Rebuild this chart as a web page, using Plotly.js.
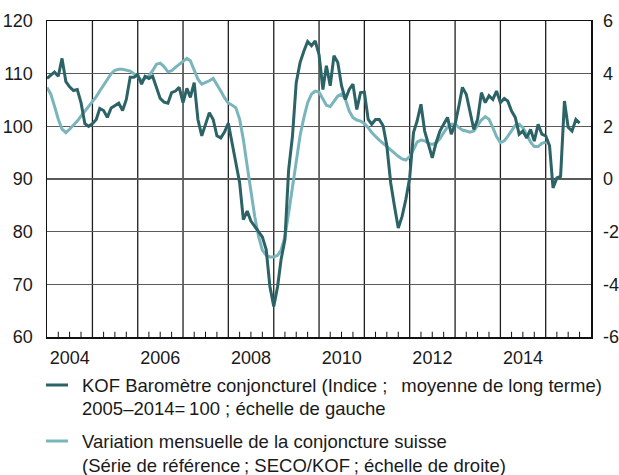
<!DOCTYPE html>
<html>
<head>
<meta charset="utf-8">
<script src="https://cdn.plot.ly/plotly-3.0.1.min.js"></script>
<style>
html,body{margin:0;padding:0;background:#fff;}
#chart{width:619px;height:475px;}
</style>
</head>
<body>
<div id="chart"></div>
<script>
// Monthly series, starting January 2004
const startYear = 2004;
const kofValues = [
  109.1,109.8,110.3,109.5,112.9,108.5,107.5,106.8,107.0,104.5,100.5,100.0,
  100.5,101.3,103.4,103.0,101.7,103.5,104.0,104.4,103.0,105.1,109.3,109.3,
  109.8,108.0,109.5,109.1,109.5,107.4,105.3,104.6,104.4,106.4,106.7,107.4,
  104.5,107.2,105.5,108.3,101.3,98.2,100.4,102.6,101.3,98.2,97.8,98.9,
  100.6,96.9,93.1,89.3,82.3,83.9,82.0,81.0,79.8,79.0,76.6,69.6,
  65.8,69.6,74.7,78.5,91.8,98.2,108.3,112.1,114.3,116.1,115.3,116.2,
  113.6,107.0,111.5,107.7,113.4,112.1,107.7,105.1,107.0,108.0,103.2,106.4,
  106.5,101.3,100.4,101.3,101.3,100.1,96.3,89.3,84.8,80.7,82.9,86.1,
  90.2,98.8,101.0,104.2,99.1,96.6,94.0,96.9,99.1,100.4,101.7,98.5,
  100.4,103.9,107.4,106.1,102.6,99.4,101.3,106.4,104.5,105.8,105.1,106.7,
  104.5,105.3,104.8,102.9,101.7,98.5,99.1,97.8,99.4,97.2,100.4,98.5,
  98.2,96.3,88.3,90.2,90.5,104.8,99.8,99.1,101.3,100.6
];
const refValues = [
  3.47,3.22,2.77,2.27,1.89,1.76,1.89,2.04,2.20,2.39,2.58,2.75,
  2.93,3.13,3.34,3.56,3.79,4.00,4.13,4.17,4.17,4.14,4.10,4.00,
  3.89,3.73,3.82,3.92,4.11,4.36,4.40,4.27,4.07,4.11,4.24,4.36,
  4.49,4.58,4.49,4.11,3.79,3.60,3.66,3.73,3.82,3.60,3.34,3.09,
  2.88,2.80,2.71,2.27,1.50,0.49,-0.54,-1.43,-2.19,-2.70,-2.90,-2.96,
  -2.96,-2.90,-2.70,-2.19,-1.29,-0.27,0.75,1.64,2.34,2.90,3.22,3.34,
  3.30,3.03,2.80,2.75,2.93,3.15,3.22,3.03,2.58,2.33,2.24,2.20,
  2.11,1.95,1.76,1.60,1.48,1.35,1.24,1.12,0.98,0.86,0.76,0.72,
  0.85,1.12,1.40,1.48,1.45,1.35,1.31,1.37,1.53,1.76,1.97,2.08,
  2.08,1.95,1.86,1.82,1.78,1.82,2.01,2.24,2.37,2.27,1.95,1.61,
  1.38,1.45,1.62,1.86,2.04,2.08,1.95,1.70,1.40,1.23,1.23,1.35,
  1.40
];
const yearLabels = ['2004','2006','2008','2010','2012','2014'];
const gridYears = [2005,2006,2007,2008,2009,2010,2011,2012,2013,2014,2015];
const quarterMonths = ['04','07','10'];
const leftTicks = [60,70,80,90,100,110,120];
const rightTicks = [-6,-4,-2,0,2,4,6];
const rightTickText = ['-6','-4','-2','0','2','4','6'];
const legendKof = ['KOF Baromètre conjoncturel (Indice\u00a0;\u00a0\u00a0\u2009moyenne de long terme)', '2005\u20132014=\u2009100\u00a0; échelle de gauche'];
const legendRef = ['Variation mensuelle de la conjoncture suisse', '(Série de référence\u2009; SECO/KOF\u2009; échelle de droite)'];

function monthDates(n){
  const out=[];
  for(let i=0;i<n;i++){
    const y=startYear+Math.floor(i/12), m=(i%12)+1;
    out.push(y+'-'+String(m).padStart(2,'0')+'-01');
  }
  return out;
}
const xRange=['2004-01-01','2016-01-01'];
const dark='#2b6366', light='#7ab5bb';
const font='Liberation Sans, Arial, sans-serif';
const tf={family:font,size:18,color:'#1a1a1a'};

const traces=[
  {x:monthDates(refValues.length), y:refValues, type:'scatter', mode:'lines',
   xaxis:'x', yaxis:'y', line:{color:light,width:3}, hoverinfo:'skip', showlegend:false},
  {x:monthDates(kofValues.length), y:kofValues, type:'scatter', mode:'lines',
   xaxis:'x', yaxis:'y2', line:{color:dark,width:3}, hoverinfo:'skip', showlegend:false}
];

// legend geometry in paper coordinates
const plotTop=21, plotBottom=337, plotLeft=47, plotW=544;
const py=p=>(plotBottom-p)/(plotBottom-plotTop);
const px=p=>(p-plotLeft)/plotW;
const legFont={family:font,size:18.5,color:'#1a1a1a'};
const annotations=[];
const lineRows=[[legendKof,[385,409],dark],[legendRef,[441,465],light]];
const shapes=[];
// yearly vertical grid lines
gridYears.forEach(y=>shapes.push({type:'line',layer:'below',xref:'x',yref:'paper',
  x0:y+'-01-01',x1:y+'-01-01',y0:0,y1:1,line:{color:'#1e1e1e',width:1.3}}));
// quarterly tick marks on the bottom axis
for(let y=2004;y<=2015;y++){
  quarterMonths.forEach(m=>shapes.push({type:'line',layer:'above',xref:'x',yref:'y',
    x0:y+'-'+m+'-01',x1:y+'-'+m+'-01',y0:-6,y1:-5.8,line:{color:'#111',width:1}}));
}
lineRows.forEach(([txt,ys,col])=>{
  txt.forEach((t,i)=>annotations.push({xref:'paper',yref:'paper',x:px(80),y:py(ys[i]),xanchor:'left',yanchor:'middle',text:t,showarrow:false,font:legFont}));
  shapes.push({type:'line',xref:'paper',yref:'paper',x0:px(46),x1:px(68),y0:py(ys[0]),y1:py(ys[0]),line:{color:col,width:3}});
});

const layout={
  width:619,height:475,
  margin:{l:47,r:28,t:21,b:138},
  paper_bgcolor:'#fff',plot_bgcolor:'#fff',
  font:tf,
  showlegend:false,
  xaxis:{type:'date',range:xRange,fixedrange:true,
    tickmode:'array',tickvals:yearLabels.map(y=>y+'-07-02'),ticktext:yearLabels,
    ticks:'',ticklabelstandoff:4,tickfont:tf,showgrid:false,
    zeroline:false,showline:true,mirror:true,linecolor:'#111',linewidth:1.5},
  yaxis:{side:'right',range:[-6,6],fixedrange:true,tickmode:'array',tickvals:rightTicks,ticktext:rightTickText,
    showgrid:true,gridcolor:'#5a5a5a',gridwidth:1.4,zeroline:false,ticks:'',
    showline:true,linecolor:'#111',linewidth:1.5,ticklabelstandoff:7,tickfont:tf},
  yaxis2:{overlaying:'y',side:'left',anchor:'x',range:[60,120],fixedrange:true,tickmode:'array',tickvals:leftTicks,
    showgrid:false,zeroline:false,ticks:'',showline:true,linecolor:'#111',linewidth:1.5,ticklabelstandoff:9,tickfont:tf},
  annotations:annotations,
  shapes:shapes
};
Plotly.newPlot('chart',traces,layout,{staticPlot:true,displayModeBar:false});
</script>
</body>
</html>
